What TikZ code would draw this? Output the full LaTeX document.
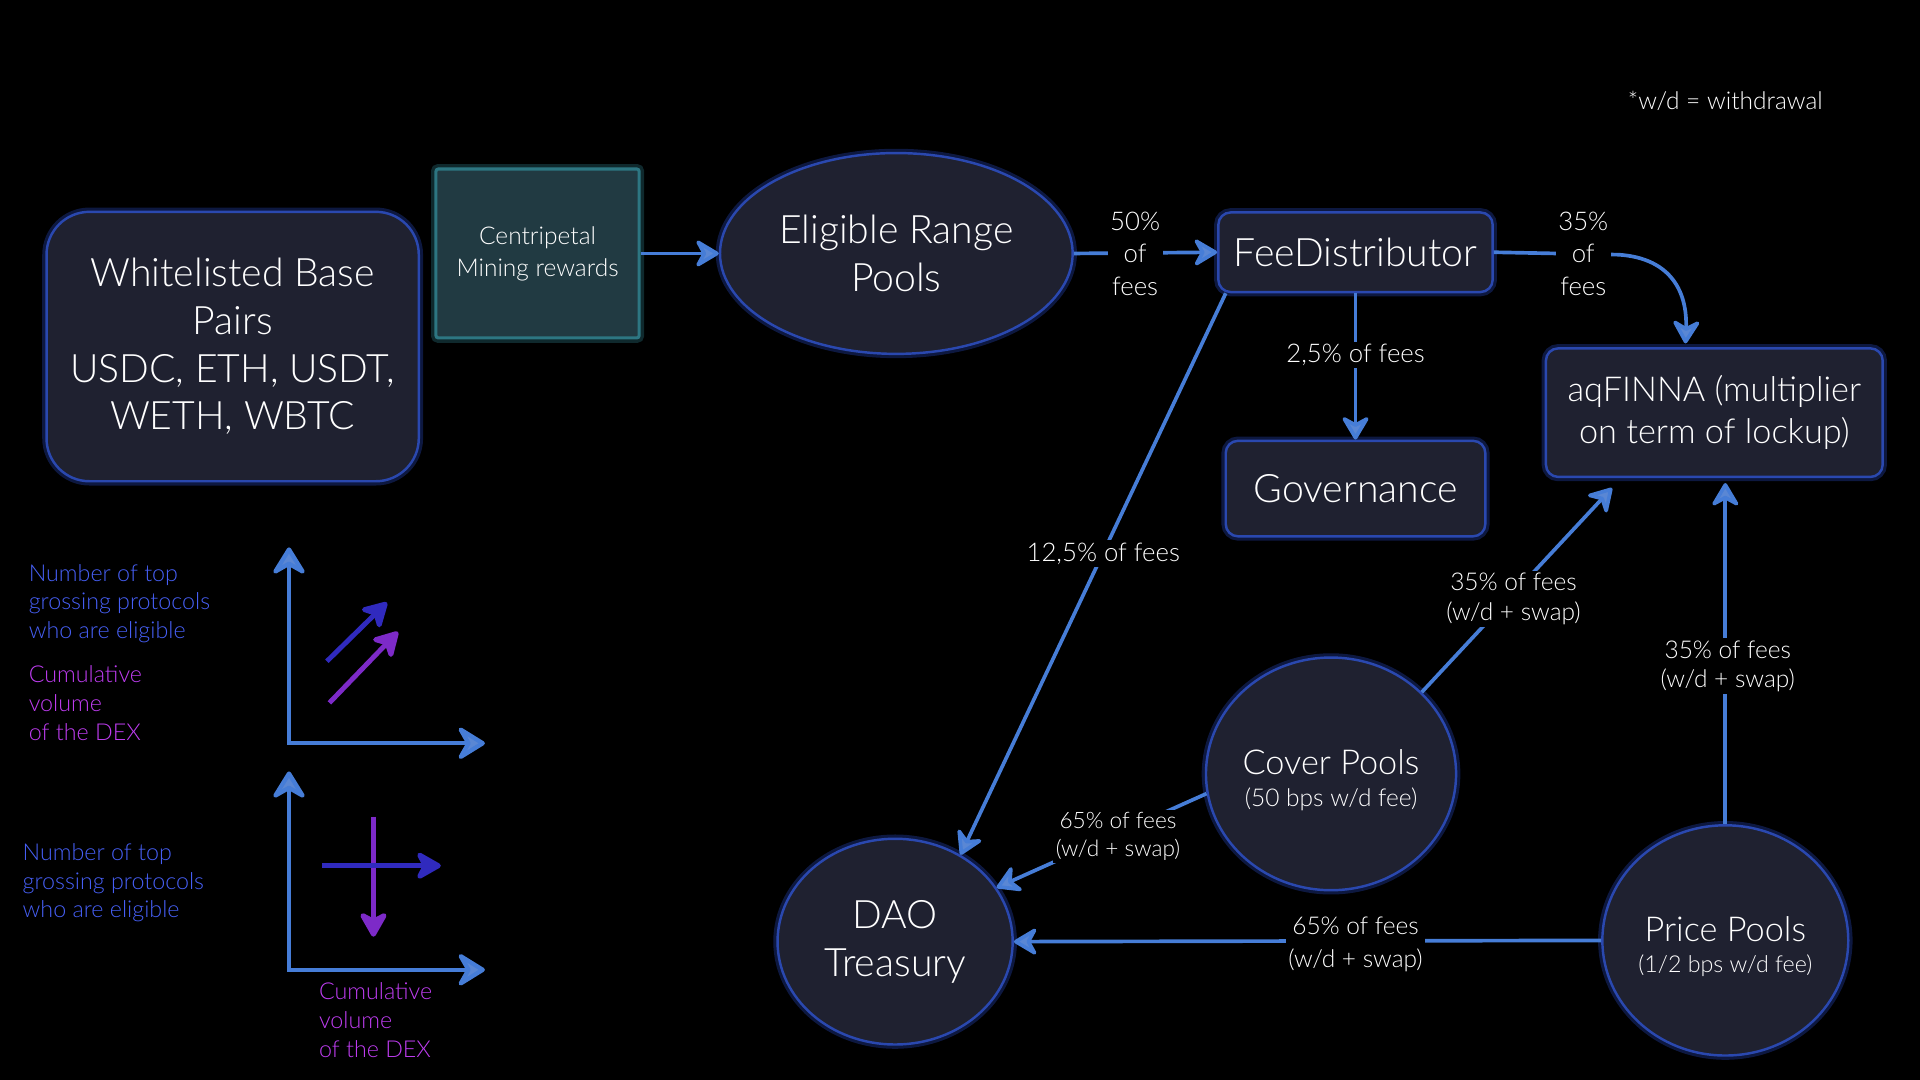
\documentclass[tikz,border=0pt]{standalone}
\usepackage{fontspec}
\setmainfont{Lato Light}
\usetikzlibrary{arrows.meta,calc,shapes.geometric}
\definecolor{nodefill}{RGB}{31,33,48}
\definecolor{nodeborder}{RGB}{42,72,175}
\definecolor{glowc}{RGB}{40,70,185}
\definecolor{connc}{RGB}{70,125,215}
\definecolor{tipc}{RGB}{90,135,212}
\definecolor{tealfill}{RGB}{33,58,66}
\definecolor{tealborder}{RGB}{45,118,130}
\definecolor{lblue}{RGB}{70,95,245}
\definecolor{lpurple}{RGB}{190,60,240}
\definecolor{cblue}{RGB}{48,42,190}
\definecolor{cpurple}{RGB}{125,42,200}
\begin{document}
\begin{tikzpicture}[x=1pt,y=-1pt,
  box/.style={draw=nodeborder, line width=2pt, fill=nodefill, text=white, align=center, inner sep=0pt,
    preaction={draw=glowc, line width=7pt, draw opacity=0.35}},
  cbox/.style={draw=tealborder, line width=2.5pt, fill=tealfill, text=white, align=center, inner sep=0pt,
    rounded corners=2pt, preaction={draw=tealborder, line width=8pt, draw opacity=0.35}},
  big/.style={font=\fontsize{32}{39}\selectfont},
  conn/.style={draw=connc, line width=3pt, -{Stealth[length=22pt,width=26pt,inset=7pt,fill=tipc,round]}},
  lbl/.style={fill=black, text=white, inner sep=2pt, align=center, font=\fontsize{21}{26.5}\selectfont},
  slbl/.style={fill=black, text=white, inner sep=2pt, align=center, font=\fontsize{18.5}{22.5}\selectfont},
  axis/.style={draw=connc, line width=3.5pt, line join=miter,
    {Stealth[length=26pt,width=32pt,inset=9pt,fill=tipc,round]}-{Stealth[length=26pt,width=32pt,inset=9pt,fill=tipc,round]}},
  carrow/.style={line width=4pt, -{Stealth[length=24pt,width=27pt,inset=7pt,round]}},
  ltxt/.style={anchor=west, align=left, font=\fontsize{19}{23.5}\selectfont}
]
\fill[black] (0,0) rectangle (1568,882);
\useasboundingbox (0,0) rectangle (1568,882);

% nodes
\node[box, big, rounded corners=35pt, minimum width=304pt, minimum height=220pt] (wl) at (190,283)
  {Whitelisted Base\\Pairs\\USDC, ETH, USDT,\\WETH, WBTC};
\node[cbox, minimum width=166pt, minimum height=138pt, font=\fontsize{20}{26}\selectfont] (cent) at (439,207)
  {Centripetal\\Mining rewards};
\node[box, big, ellipse, minimum width=288pt, minimum height=164pt] (erp) at (732,207) {Eligible Range\\Pools};
\node[box, big, rounded corners=10pt, minimum width=224pt, minimum height=65pt] (fee) at (1107,206) {FeeDistributor};
\node[box, big, rounded corners=10pt, minimum width=212pt, minimum height=78pt] (gov) at (1107,399) {Governance};
\node[box, rounded corners=10pt, minimum width=275pt, minimum height=105pt, font=\fontsize{28}{34}\selectfont] (aq) at (1400,337)
  {aqFINNA (multiplier\\on term of lockup)};
\node[box, big, ellipse, minimum width=192pt, minimum height=168pt] (dao) at (731,769) {DAO\\Treasury};
\node[box, ellipse, minimum width=192pt, minimum height=190pt, font=\fontsize{20}{26}\selectfont] (cover) at (1087,632)
  {{\fontsize{28}{28}\selectfont\rule{0pt}{31pt}Cover Pools}\\{(50 bps w/d fee)}};
\node[box, ellipse, minimum width=188pt, minimum height=188pt, font=\fontsize{19}{25}\selectfont] (price) at (1409,768)
  {{\fontsize{28}{28}\selectfont\rule{0pt}{30pt}Price Pools}\\{(1/2 bps w/d fee)}};

\node[text=white, font=\fontsize{20}{24}\selectfont] (note) at (1409,82) {*w/d = withdrawal};

% connectors
\coordinate (c35) at (1322,208);
\draw[conn] (cent.east) -- (erp.west);
\draw[conn] (erp.east) -- (fee.west);
\node[lbl] (l50) at (927,207) {50\%\\of\\fees};
\draw[conn] (fee.east) -- (c35) .. controls (1366,211) and (1378,240) .. ($(aq.north west)+(115,-3)$);
\node[lbl] (l35a) at (1293,207) {35\%\\of\\fees};
\draw[conn] (fee.south) -- (gov.north);
\node[lbl] (l25) at (1107,290) {2,5\% of fees};
\draw[conn] ($(fee.south west)+(7,0)$) -- (dao.53);
\node[lbl] (l125) at (901,452) {12,5\% of fees};
\draw[conn] (cover.42) -- ($(aq.south west)+(55,8)$);
\node[slbl, font=\fontsize{20}{24}\selectfont] (l35b) at (1236,489) {35\% of fees\\(w/d + swap)};
\draw[conn] (price.north) -- ($(price.north |- aq.south)+(0,4)$);
\node[slbl, font=\fontsize{20}{24}\selectfont] (l35c) at (1411,544) {35\% of fees\\(w/d + swap)};
\draw[conn] (cover.189) -- (dao.28);
\node[slbl] (l65a) at (913,683) {65\% of fees\\(w/d + swap)};
\draw[conn] (price.west) -- (dao.east);
\node[lbl, font=\fontsize{20}{27}\selectfont] (l65b) at (1107,771) {65\% of fees\\(w/d + swap)};

% chart 1
\draw[axis] (236,447) -- (236,607) -- (396,607);
\draw[carrow, cblue, fill=cblue] (267,540) -- (316,492);
\draw[carrow, cpurple, fill=cpurple] (269,574) -- (325,516);
\node[ltxt, text=lblue] (t1) at (20,493) {Number of top\\grossing protocols\\who are eligible};
\node[ltxt, text=lpurple] (t2) at (20,574) {Cumulative\\volume\\of the DEX};

% chart 2
\draw[axis] (236,630) -- (236,792) -- (396,792);
\draw[carrow, cpurple, fill=cpurple] (305,667) -- (305,765);
\draw[carrow, cblue, fill=cblue] (263,707) -- (360,707);
\node[ltxt, text=lblue] (t3) at (15,721) {Number of top\\grossing protocols\\who are eligible};
\node[ltxt, text=lpurple] (t4) at (257,833) {Cumulative\\volume\\of the DEX};
\end{tikzpicture}
\end{document}
